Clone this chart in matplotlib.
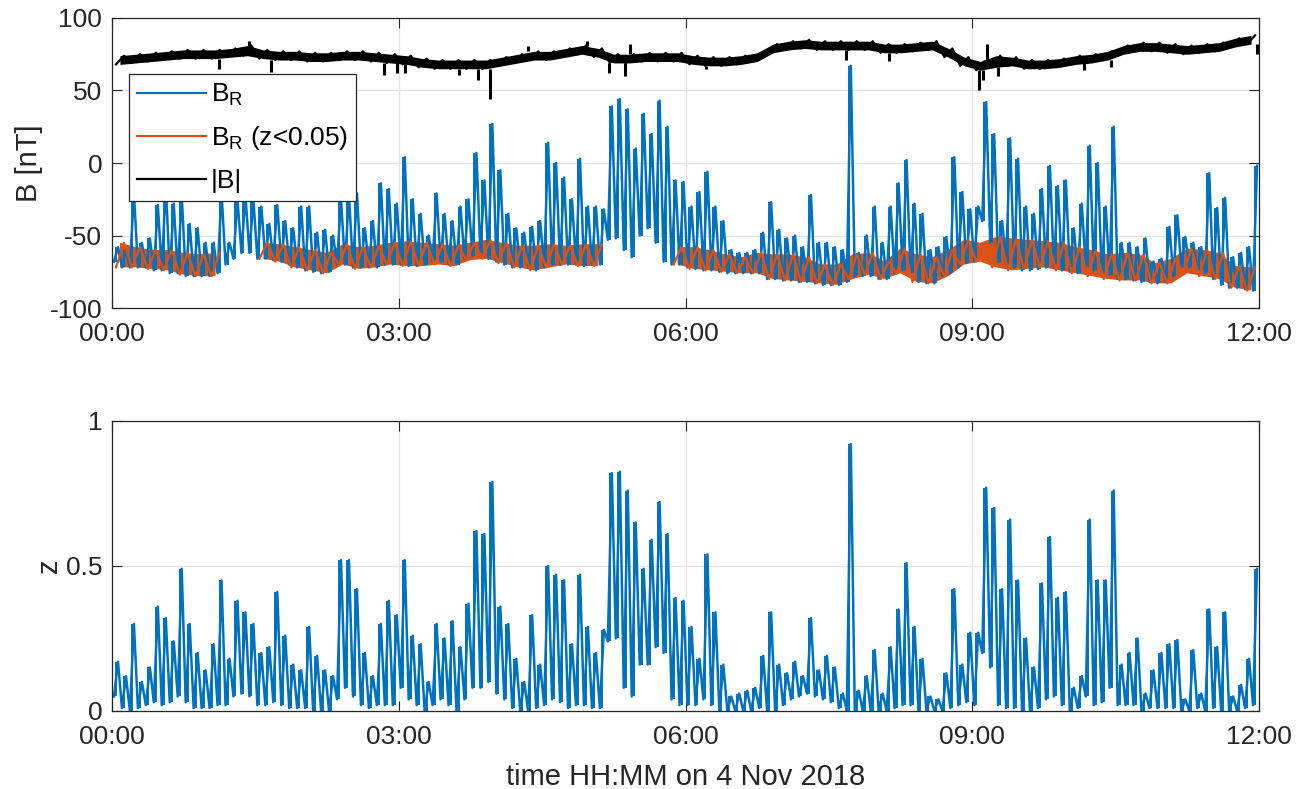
import numpy as np
import matplotlib
matplotlib.use('Agg')
import matplotlib.pyplot as plt
from matplotlib.lines import Line2D

nan = np.nan

#B_R, 5 minute bins, one row per hour (00:00 ... 11:00)
br_hi = [
    [-58, -60, -20, -55, -52, -29, -15, -28, -22, -42, -45, -55],
    [-55, -20, -55, -25, -22, -25, -30, -42, -29, -40, -45, -30],
    [-30, -48, -46, -50, -25, -22, -21, -45, -40, -14, -18, -28],
    [4, -25, -35, -50, -21, -35, -40, -30, -25, 7, -12, 27],
    [-5, -35, -45, -48, -44, -40, 14, 0, -10, -25, 3, -30],
    [-30, -32, 39, 44, 37, 10, 34, 20, 43, 25, -12, -13],
    [-30, -20, -6, -30, -40, -60, -62, -62, -60, -48, -27, -46],
    [-52, -50, -58, -22, -55, -55, -58, -60, 67, -62, -50, -30],
    [-55, -30, -14, 2, -28, -35, -60, -58, -51, 4, -20, -32],
    [-30, 42, 20, -40, 17, 3, -30, -35, -18, -2, -16, -12],
    [-45, -28, 12, 0, -30, 25, -55, -55, -58, -52, -68, -66],
    [-44, -36, -51, -55, -58, -7, -31, -24, -65, -62, -58, -2],
]
br_lo = [
    [-68, -72, -72, -72, -72, -74, -74, -76, -76, -78, -78, -78],
    [-78, -76, -70, -66, -62, -62, -66, -66, -67, -68, -70, -72],
    [-74, -75, -76, -75, -70, -70, -72, -72, -72, -72, -70, -70],
    [-70, -71, -71, -70, -68, -68, -70, -70, -66, -64, -62, -66],
    [-68, -70, -72, -72, -72, -74, -72, -70, -70, -70, -70, -71],
    [-70, -70, -53, -52, -60, -65, -50, -45, -55, -68, -70, -70],
    [-72, -73, -74, -74, -75, -76, -76, -76, -76, -76, -80, -80],
    [-81, -81, -82, -82, -83, -84, -84, -84, -82, -78, -78, -78],
    [-80, -80, -76, -74, -76, -82, -83, -83, -78, -76, -72, -69],
    [-68, -40, -55, -68, -70, -72, -74, -74, -73, -72, -72, -74],
    [-75, -76, -72, -74, -76, -77, -80, -80, -81, -82, -82, -83],
    [-82, -78, -72, -72, -74, -76, -80, -84, -86, -86, -87, -88],
]

#z, 5 minute bins
z_hi = [
    [0.17, 0.12, 0.30, 0.10, 0.15, 0.36, 0.32, 0.24, 0.49, 0.30, 0.20, 0.14],
    [0.23, 0.45, 0.18, 0.38, 0.34, 0.30, 0.20, 0.22, 0.41, 0.26, 0.16, 0.14],
    [0.29, 0.19, 0.14, 0.12, 0.52, 0.52, 0.42, 0.20, 0.12, 0.30, 0.38, 0.33],
    [0.52, 0.26, 0.23, 0.10, 0.30, 0.25, 0.31, 0.22, 0.37, 0.62, 0.61, 0.79],
    [0.36, 0.30, 0.18, 0.10, 0.33, 0.16, 0.50, 0.47, 0.45, 0.23, 0.47, 0.29],
    [0.20, 0.28, 0.82, 0.825, 0.76, 0.65, 0.49, 0.59, 0.72, 0.61, 0.39, 0.38],
    [0.29, 0.18, 0.54, 0.34, 0.16, 0.05, 0.06, 0.07, 0.08, 0.19, 0.34, 0.16],
    [0.13, 0.17, 0.12, 0.32, 0.14, 0.19, 0.15, 0.06, 0.92, 0.07, 0.12, 0.21],
    [0.06, 0.22, 0.35, 0.51, 0.29, 0.18, 0.05, 0.04, 0.13, 0.42, 0.16, 0.27],
    [0.27, 0.77, 0.70, 0.42, 0.66, 0.45, 0.25, 0.15, 0.44, 0.60, 0.39, 0.41],
    [0.08, 0.12, 0.66, 0.45, 0.45, 0.76, 0.16, 0.20, 0.25, 0.06, 0.14, 0.20],
    [0.23, 0.245, 0.04, 0.21, 0.06, 0.35, 0.22, 0.34, 0.05, 0.09, 0.18, 0.49],
]
z_lo = [
    [0.05, 0.01, 0.0, 0.01, 0.02, 0.03, 0.02, 0.03, 0.05, 0.03, 0.01, 0.01],
    [0.01, 0.02, 0.02, 0.05, 0.06, 0.05, 0.02, 0.02, 0.03, 0.02, 0.01, 0.01],
    [0.01, 0.0, 0.0, 0.0, 0.04, 0.08, 0.05, 0.02, 0.01, 0.02, 0.02, 0.02],
    [0.08, 0.04, 0.02, 0.0, 0.02, 0.04, 0.02, 0.0, 0.04, 0.08, 0.08, 0.10],
    [0.06, 0.04, 0.01, 0.0, 0.0, 0.01, 0.02, 0.04, 0.03, 0.01, 0.02, 0.02],
    [0.01, 0.01, 0.24, 0.25, 0.08, 0.05, 0.16, 0.16, 0.22, 0.20, 0.04, 0.02],
    [0.02, 0.02, 0.04, 0.02, 0.0, 0.0, 0.0, 0.0, 0.0, 0.01, 0.0, 0.0],
    [0.02, 0.04, 0.05, 0.06, 0.05, 0.04, 0.03, 0.01, 0.0, 0.0, 0.0, 0.0],
    [0.0, 0.0, 0.01, 0.02, 0.02, 0.0, 0.0, 0.0, 0.0, 0.01, 0.02, 0.03],
    [0.02, 0.20, 0.15, 0.02, 0.01, 0.01, 0.0, 0.0, 0.01, 0.04, 0.05, 0.02],
    [0.0, 0.01, 0.05, 0.02, 0.03, 0.08, 0.02, 0.02, 0.02, 0.0, 0.01, 0.01],
    [0.01, 0.01, 0.0, 0.0, 0.01, 0.0, 0.01, 0.0, 0.0, 0.0, 0.01, 0.02],
]

#B_R where z<0.05, 10 minute bins (nan = no data)
brq_hi = [
    [-55, -58, -60, -60, -62, -63],
    [-62, nan, nan, -55, -56, -58],
    [-60, -62, -56, -58, -57, -55],
    [-54, -55, -56, -57, -55, -53],
    [-55, -57, -57, -56, -57, -56],
    [-56, nan, nan, nan, nan, -58],
    [-58, -60, -63, -65, -62, -63],
    [-63, -65, -70, -70, -63, -62],
    [-68, -59, -63, -65, -60, -53],
    [-55, -51, -52, -53, -54, -55],
    [-58, -60, -63, -62, -63, -69],
    [-66, -59, -60, -62, -71, -72],
]
brq_lo = [
    [-72, -72, -73, -74, -77, -78],
    [-78, nan, nan, -66, -68, -72],
    [-74, -76, -70, -73, -72, -70],
    [-71, -71, -70, -71, -67, -66],
    [-69, -72, -74, -72, -70, -71],
    [-71, nan, nan, nan, nan, -70],
    [-73, -74, -75, -76, -76, -80],
    [-81, -82, -83, -84, -80, -77],
    [-80, -76, -82, -83, -78, -70],
    [-68, -72, -74, -73, -72, -74],
    [-76, -78, -80, -81, -81, -83],
    [-83, -76, -78, -80, -86, -88],
]

#|B| band, 10 minute bins
bmag_hi = [
    [74, 75, 76, 77, 78, 78],
    [78, 79, 81, 78, 77, 77],
    [76, 76, 77, 77, 76, 75],
    [74, 72, 71, 71, 71, 71],
    [73, 75, 77, 77, 79, 81],
    [79, 75, 75, 76, 76, 76],
    [74, 73, 73, 74, 76, 82],
    [84, 85, 84, 84, 84, 84],
    [82, 82, 83, 84, 79, 73],
    [70, 74, 73, 71, 71, 72],
    [74, 75, 77, 81, 83, 83],
    [82, 81, 82, 83, 86, 88],
]
bmag_lo = [
    [68, 69, 70, 71, 72, 72],
    [72, 73, 74, 72, 71, 71],
    [70, 70, 71, 71, 70, 69],
    [68, 66, 65, 65, 65, 65],
    [67, 69, 71, 71, 73, 75],
    [73, 69, 69, 70, 70, 70],
    [68, 67, 67, 68, 70, 76],
    [78, 79, 78, 78, 78, 78],
    [76, 76, 77, 78, 73, 67],
    [64, 66, 67, 65, 65, 66],
    [68, 69, 71, 75, 77, 77],
    [76, 75, 76, 77, 80, 82],
]
#single short drops and jumps of |B| (minutes after 00:00, nT)
bmag_dip_t = [67, 100, 171, 179, 184, 218, 230, 237, 312, 322, 373, 461, 488, 544, 547, 556, 610, 627, 719]
bmag_dip_v = [65, 63, 61, 62, 62, 61, 57, 44, 62, 60, 65, 71, 70, 50, 57, 60, 64, 66, 75]
bmag_peak_t = [86, 261, 298, 325, 549]
bmag_peak_v = [84, 81, 84, 82, 82]

xticks = [0, 180, 360, 540, 720]
xticklabels = ['00:00', '03:00', '06:00', '09:00', '12:00']

blue = '#0072BD'
orange = '#D95319'

plt.rcParams['font.family'] = ['Liberation Sans', 'DejaVu Sans']
plt.rcParams['font.size'] = 19
plt.rcParams['mathtext.default'] = 'regular'
plt.rcParams['axes.unicode_minus'] = False


def zigzag(lo, hi, step):
    #put the min and the max of each bin side by side in time
    lo = np.ravel(lo)
    hi = np.ravel(hi)
    t = np.arange(len(lo)) * step
    x = np.column_stack([t + step * 0.25, t + step * 0.75]).ravel()
    y = np.column_stack([lo, hi]).ravel()
    return t + step * 0.5, x, y


def draw_noisy(ax, lo, hi, step, color):
    #zigzag through the envelope plus a min-max bar per bin
    tc, x, y = zigzag(lo, hi, step)
    ax.plot(x, y, color=color, lw=1.8)
    ax.vlines(tc, np.ravel(lo), np.ravel(hi), color=color, lw=1.4)


def style_axes(ax):
    ax.set_xlim(0, 720)
    ax.set_xticks(xticks)
    ax.set_xticklabels(xticklabels)
    ax.grid(True, color='#e3e3e3', linewidth=0.9)
    ax.set_axisbelow(True)
    ax.tick_params(direction='in', length=7, width=0.8, top=True, right=True,
                   colors='#262626', labelsize=19)
    ax.tick_params(axis='x', pad=10)
    ax.tick_params(axis='y', pad=7)
    for s in ax.spines.values():
        s.set_color('#262626')
        s.set_linewidth(0.9)


fig = plt.figure(figsize=(13.04, 7.89), dpi=100)
ax1 = fig.add_axes([0.0859, 0.6096, 0.8796, 0.3676])
ax2 = fig.add_axes([0.0859, 0.0989, 0.8796, 0.3676])

#top panel
draw_noisy(ax1, br_lo, br_hi, 5, blue)

tc, x, y = zigzag(brq_lo, brq_hi, 10)
ax1.fill_between(tc, np.ravel(brq_lo), np.ravel(brq_hi), color=orange, lw=0)
ax1.plot(x, y, color=orange, lw=1.6)

tc, x, y = zigzag(bmag_lo, bmag_hi, 10)
band_lo = np.ravel(bmag_lo)
band_hi = np.ravel(bmag_hi)
ax1.fill_between(tc, band_lo, band_hi, color='k', lw=0)
ax1.plot(x, y, color='k', lw=1.6)
dip_i = np.minimum(np.array(bmag_dip_t) // 10, len(band_lo) - 1)
ax1.vlines(bmag_dip_t, bmag_dip_v, band_lo[dip_i], color='k', lw=2.2)
peak_i = np.minimum(np.array(bmag_peak_t) // 10, len(band_hi) - 1)
ax1.vlines(bmag_peak_t, band_hi[peak_i], bmag_peak_v, color='k', lw=2.2)

ax1.set_ylim(-100, 100)
ax1.set_yticks([-100, -50, 0, 50, 100])
style_axes(ax1)
ax1.set_ylabel('B [nT]', fontsize=21, color='#262626', labelpad=5)

handles = [Line2D([], [], color=blue, lw=1.6),
           Line2D([], [], color=orange, lw=1.6),
           Line2D([], [], color='k', lw=1.6)]
leg = ax1.legend(handles, ['$B_R$', '$B_R$ (z<0.05)', '|B|'],
                 loc='upper left', bbox_to_anchor=(0.0148, 0.807),
                 borderaxespad=0, fancybox=False, framealpha=1,
                 edgecolor='#262626', fontsize=19, handlelength=2.6,
                 handletextpad=0.2, labelspacing=0.62, borderpad=0.3)
leg.get_frame().set_linewidth(0.9)

#bottom panel
draw_noisy(ax2, z_lo, z_hi, 5, blue)
ax2.set_ylim(0, 1)
ax2.set_yticks([0, 0.5, 1])
ax2.set_yticklabels(['0', '0.5', '1'])
style_axes(ax2)
ax2.set_ylabel('z', fontsize=21, color='#262626', labelpad=2)
ax2.set_xlabel('time HH:MM on 4 Nov 2018', fontsize=21, color='#262626', labelpad=10)

fig.savefig('out.png', dpi=100)
